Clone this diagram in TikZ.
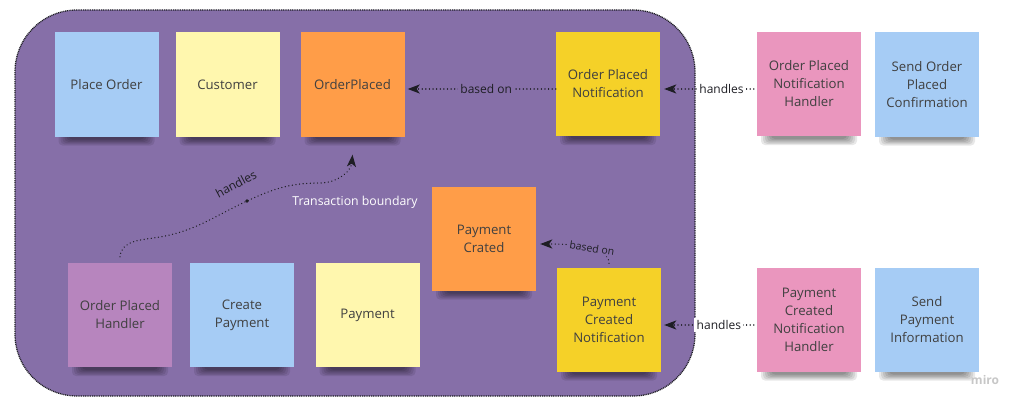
\documentclass[tikz,border=0pt]{standalone}
\usepackage{fontspec}
\setmainfont{Open Sans}
\usetikzlibrary{arrows.meta}
\definecolor{bgpurple}{RGB}{134,111,168}
\definecolor{sblue}{RGB}{166,204,245}
\definecolor{syellow}{RGB}{255,247,174}
\definecolor{sorange}{RGB}{255,157,72}
\definecolor{sgold}{RGB}{245,209,40}
\definecolor{spink}{RGB}{234,150,190}
\definecolor{sviolet}{RGB}{183,133,190}
\definecolor{stext}{RGB}{64,64,64}
\definecolor{linec}{RGB}{30,30,36}
\tikzset{
  sticky/.style={minimum width=104pt, minimum height=104pt, inner sep=0pt, align=center,
    text=stext, font=\fontsize{13.2}{18}\selectfont},
  conn/.style={draw=linec, line width=1.4pt, dash pattern=on 0.01pt off 3.6pt, line cap=round,
    -{Stealth[length=12pt,width=9pt,inset=3pt]}},
  lab/.style={font=\fontsize{12}{14}\selectfont, text=linec, inner sep=2.5pt},
  smalllab/.style={font=\fontsize{10.5}{12}\selectfont, text=linec, inner sep=1.5pt},
  boundarybox/.style={draw=linec, fill=bgpurple, rounded corners=62pt, line width=1.3pt,
    dash pattern=on 1pt off 0.8pt, minimum width=680pt, minimum height=386pt, inner sep=0pt},
}
\newcommand\mysticky[5]{%
  \foreach \i in {0,...,5}{%
    \fill[black,opacity=0.09,rounded corners=4pt] (#2-48+2*\i,#3-61+1.2*\i) rectangle (#2+48-2*\i,#3-40);
  }
  \node[sticky,fill=#4] (#1) at (#2,#3) {#5};
}
\begin{document}
\begin{tikzpicture}[x=1pt,y=1pt]
\useasboundingbox (0,0) rectangle (1024,408);
\node[boundarybox] (boundary) at (355,205) {};

\mysticky{po}{106.5}{323.5}{sblue}{Place Order}
\mysticky{cu}{227.5}{323.5}{syellow}{Customer}
\mysticky{op}{352.5}{323.5}{sorange}{OrderPlaced}
\mysticky{opn}{608}{324}{sgold}{Order Placed\\Notification}
\mysticky{opnh}{809}{324}{spink}{Order Placed\\Notification\\Handler}
\mysticky{sopc}{927}{323.5}{sblue}{Send Order\\Placed\\Confirmation}
\mysticky{oph}{120}{93}{sviolet}{Order Placed\\Handler}
\mysticky{cp}{242}{93}{sblue}{Create\\Payment}
\mysticky{pay}{367.5}{93}{syellow}{Payment}
\mysticky{pc}{484}{169.5}{sorange}{Payment\\Crated}
\mysticky{pcn}{609}{88.5}{sgold}{Payment\\Created\\Notification}
\mysticky{pcnh}{809}{88.5}{spink}{Payment\\Created\\Notification\\Handler}
\mysticky{spi}{927}{88.5}{sblue}{Send\\Payment\\Information}

% based on (top)
\draw[conn] ([yshift=-5pt]opn.west) -- node[lab,fill=bgpurple,pos=0.47]{based on} ([xshift=3pt,yshift=-4.5pt]op.east);
% handles (top)
\draw[conn] ([xshift=-3pt,yshift=-5pt]opnh.west) -- node[lab,fill=white,pos=0.36]{handles} ([xshift=4pt,yshift=-5pt]opn.east);
% handles (bottom)
\draw[conn] ([xshift=-3pt,yshift=-5.5pt]pcnh.west) -- node[lab,fill=white,pos=0.39]{handles} ([xshift=3pt,yshift=-5.5pt]pcn.east);
% based on (curved)
\draw[conn] ([yshift=4pt]pcn.north) to[out=90,in=0,looseness=0.7]
  node[smalllab,fill=bgpurple,pos=0.38,rotate=-9]{based on} ([xshift=4pt,yshift=-5.5pt]pc.east);
% handles (curved)
\draw[conn] ([yshift=6pt]oph.north) to[out=85,in=190] (160,171) to[out=10,in=205]
  (247,207) to[out=25,in=180] (320,225) to[out=0,in=-95] ([yshift=-18pt]op.south);
\fill[linec] (247,207) circle (1.8pt) coordinate (hdot);
\node[lab,rotate=28,inner sep=0pt] (hlab) at (236,224) {handles};

\node[font=\fontsize{12.3}{14}\selectfont, text=white] (tb) at (355,206) {Transaction boundary};
\node[font=\bfseries\fontsize{12}{14}\selectfont, text=black!22] (miro) at (985,28) {miro};
\end{tikzpicture}
\end{document}
